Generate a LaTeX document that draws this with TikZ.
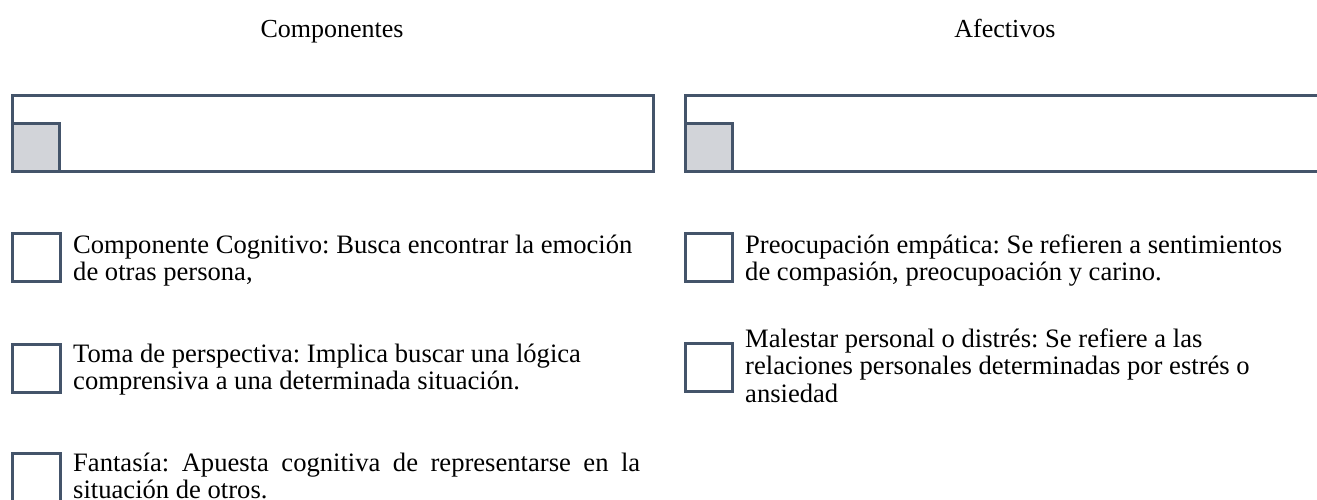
\documentclass[tikz,border=0pt]{standalone}
\usepackage{fontspec}
\setmainfont{Liberation Serif}
\frenchspacing
\definecolor{marco}{RGB}{68,84,106}
\definecolor{relleno}{RGB}{210,212,217}

\begin{document}
\begin{tikzpicture}[x=1pt,y=-1pt,line join=miter,
  caja/.style={line width=3pt,draw=marco},
  titulo/.style={anchor=base,inner sep=0pt,font=\fontsize{26}{30}\selectfont},
  texto/.style={anchor=base west,inner sep=0pt,align=left,font=\fontsize{26.6}{27.5}\selectfont}]
\clip (0,0) rectangle (1317,499);
\node[titulo] (tcomp) at (332,37) {Componentes};
\node[titulo] (tafec) at (1005,37) {Afectivos};
% marcos de arriba
\draw[caja] (12,95) rectangle (653,171);
\draw[caja,fill=relleno] (12,123) rectangle (59,171);
\draw[caja] (685,95) rectangle (1326,171);
\draw[caja,fill=relleno] (685,123) rectangle (732,171);
% casillas
\draw[caja] (12,233) rectangle (60,281);
\draw[caja] (12,344) rectangle (60,392);
\draw[caja] (12,453) rectangle (60,501);
\draw[caja] (685,233) rectangle (732,281);
\draw[caja] (685,343) rectangle (732,391);
% textos (base = ultima linea)
\node[texto] (cog) at (73,280.5) {Componente Cognitivo: Busca encontrar la emoción\\de otras persona,};
\node[texto] (toma) at (73,389.5) {Toma de perspectiva: Implica buscar una lógica\\comprensiva a una determinada situación.};
% con text width la base es la primera linea
\node[texto,text width=567pt,align=justify] (fant) at (73,471) {Fantasía: Apuesta cognitiva de representarse en la\linebreak situación de otros.};
\node[texto] (preo) at (745,280.5) {Preocupación empática: Se refieren a sentimientos\\de compasión, preocupoación y carino.};
\node[texto] (male) at (745,402) {Malestar personal o distrés: Se refiere a las\\relaciones personales determinadas por estrés o\\ansiedad};
\end{tikzpicture}
\end{document}
